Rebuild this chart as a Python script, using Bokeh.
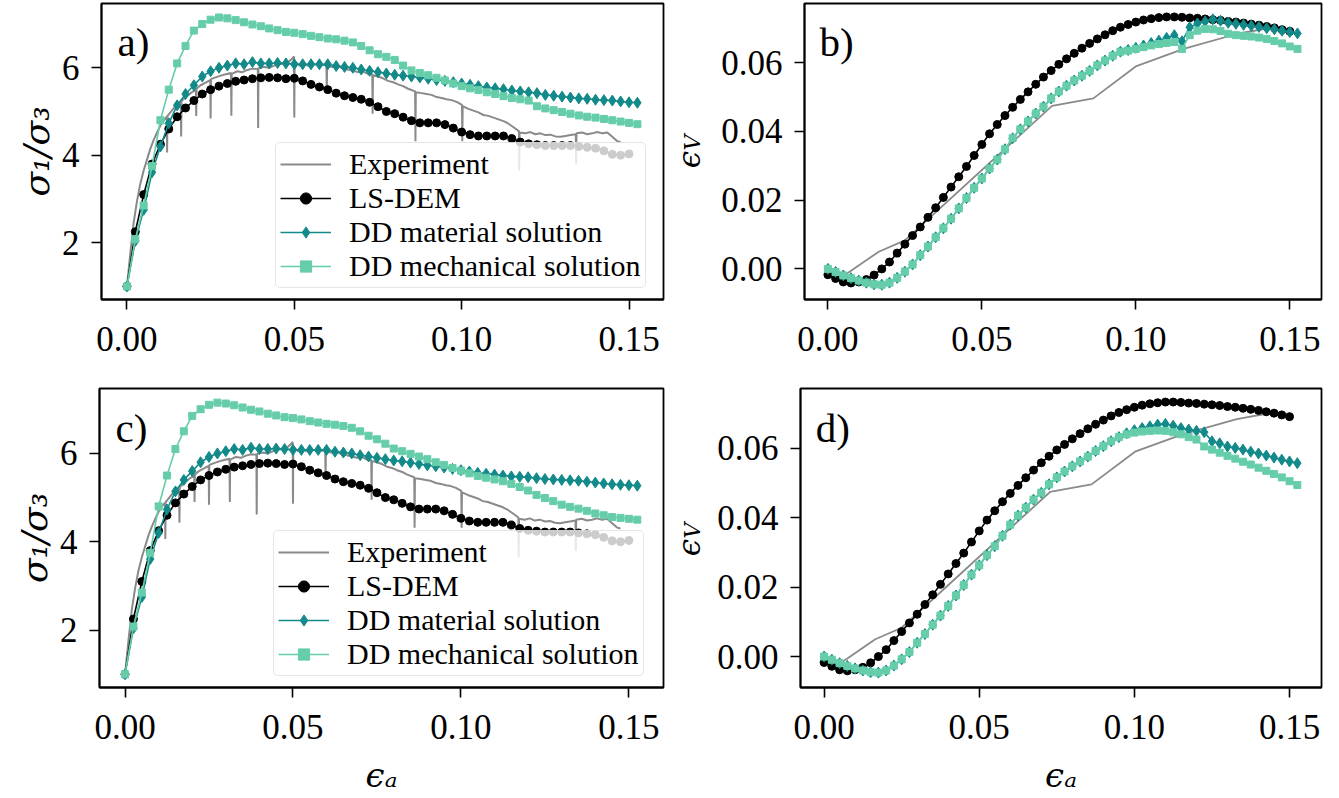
import math
from bokeh.plotting import figure
from bokeh.models import Range1d, FixedTicker, NumeralTickFormatter, Legend, LegendItem, Label
from bokeh.layouts import column, row
from bokeh.core.properties import value
from bokeh.embed import file_html
from bokeh.resources import INLINE

# ---------------- data ----------------
DD_STRAIN = [0.0, 0.0025, 0.005, 0.0075, 0.01, 0.0125, 0.015, 0.0175, 0.02, 0.0225,
             0.025, 0.0275, 0.03, 0.0325, 0.035, 0.0375, 0.04, 0.0425, 0.045, 0.0475,
             0.05, 0.0525, 0.055, 0.0575, 0.06, 0.0625, 0.065, 0.0675, 0.07, 0.0725,
             0.075, 0.0775, 0.08, 0.0825, 0.085, 0.0875, 0.09, 0.0925, 0.095, 0.0975,
             0.1, 0.1025, 0.105, 0.1075, 0.11, 0.1125, 0.115, 0.1175, 0.12, 0.1225,
             0.125, 0.1275, 0.13, 0.1325, 0.135, 0.1375, 0.14, 0.1425, 0.145, 0.1475,
             0.15, 0.1525]
DEM_STRAIN = DD_STRAIN[:61]

# stress ratio sigma1/sigma3, LS-DEM
DEM_RATIO = [1.00, 2.25, 3.10, 3.80, 4.25, 4.60, 4.88, 5.08, 5.25, 5.40,
             5.50, 5.58, 5.64, 5.69, 5.72, 5.75, 5.77, 5.78, 5.77, 5.75,
             5.76, 5.70, 5.62, 5.56, 5.50, 5.42, 5.36, 5.32, 5.28, 5.21,
             5.11, 5.00, 4.95, 4.87, 4.79, 4.74, 4.74, 4.74, 4.70, 4.62,
             4.53, 4.47, 4.44, 4.44, 4.44, 4.44, 4.38, 4.30, 4.26, 4.24,
             4.22, 4.22, 4.22, 4.22, 4.20, 4.18, 4.16, 4.10, 4.02, 4.00,
             4.03]

# DD material solution, panel a
MAT_RATIO_A = [1.00, 2.04, 2.75, 3.61, 4.20, 4.73, 5.14, 5.40, 5.60, 5.80,
               5.92, 6.00, 6.05, 6.10, 6.08, 6.13, 6.10, 6.10, 6.11, 6.10,
               6.08, 6.08, 6.08, 6.08, 6.08, 6.04, 6.02, 6.00, 5.96, 5.93,
               5.90, 5.87, 5.84, 5.82, 5.80, 5.78, 5.75, 5.72, 5.70, 5.67,
               5.64, 5.61, 5.58, 5.55, 5.53, 5.51, 5.48, 5.46, 5.44, 5.42,
               5.38, 5.36, 5.34, 5.32, 5.30, 5.29, 5.27, 5.26, 5.25, 5.23,
               5.21, 5.20]
# DD mechanical solution, panel a
MECH_RATIO_A = [1.00, 2.08, 2.85, 3.75, 4.80, 5.50, 6.10, 6.50, 6.85, 7.00,
                7.10, 7.15, 7.13, 7.09, 7.04, 6.99, 6.95, 6.90, 6.86, 6.82,
                6.80, 6.77, 6.73, 6.70, 6.67, 6.65, 6.62, 6.58, 6.50, 6.40,
                6.31, 6.25, 6.18, 6.05, 5.94, 5.88, 5.83, 5.77, 5.71, 5.64,
                5.58, 5.53, 5.49, 5.44, 5.40, 5.35, 5.31, 5.28, 5.25, 5.12,
                5.07, 5.03, 4.99, 4.95, 4.91, 4.88, 4.86, 4.83, 4.80, 4.77,
                4.74, 4.71]
# DD material solution, panel c
MAT_RATIO_C = MAT_RATIO_A[:30] + [
               5.90, 5.87, 5.84, 5.82, 5.79, 5.76, 5.73, 5.71, 5.68, 5.65,
               5.62, 5.59, 5.56, 5.54, 5.52, 5.50, 5.48, 5.47, 5.46, 5.44,
               5.42, 5.41, 5.40, 5.39, 5.38, 5.36, 5.34, 5.32, 5.30, 5.29,
               5.28, 5.27]
# DD mechanical solution, panel c
MECH_RATIO_C = MECH_RATIO_A[:30] + [
               6.32, 6.22, 6.11, 6.05, 5.99, 5.93, 5.87, 5.80, 5.74, 5.67,
               5.61, 5.55, 5.49, 5.45, 5.41, 5.37, 5.31, 5.24, 5.16, 5.06,
               4.99, 4.92, 4.84, 4.79, 4.75, 4.70, 4.64, 4.60, 4.56, 4.54,
               4.52, 4.50]

# experiment stress ratio (noisy, with relaxation drops)
EXP_STRAIN = [0.0, 0.001, 0.002, 0.003, 0.004, 0.005, 0.006, 0.007, 0.008, 0.009,
              0.010, 0.011, 0.0119, 0.0120, 0.0121, 0.013, 0.014, 0.015, 0.0161, 0.0162,
              0.0163, 0.0175, 0.019, 0.0206, 0.0207, 0.0208, 0.022, 0.0235, 0.0249, 0.0250,
              0.0251, 0.0265, 0.028, 0.0295, 0.0311, 0.0312, 0.0313, 0.033, 0.0345, 0.036,
              0.0375, 0.0391, 0.0392, 0.0393, 0.041, 0.0425, 0.044, 0.0455, 0.047, 0.0485,
              0.0495, 0.0499, 0.0500, 0.0501, 0.0515, 0.053, 0.0545, 0.056, 0.0575, 0.0596,
              0.0597, 0.0598, 0.0615, 0.063, 0.0645, 0.066, 0.0675, 0.069, 0.0705, 0.072,
              0.0733, 0.0734, 0.0735, 0.075, 0.0765, 0.078, 0.0795, 0.081, 0.0825, 0.084,
              0.0861, 0.0862, 0.0863, 0.088, 0.0895, 0.091, 0.0925, 0.094, 0.0955, 0.097,
              0.0985, 0.1001, 0.1002, 0.1003, 0.102, 0.1035, 0.105, 0.1065, 0.108, 0.1095,
              0.111, 0.1125, 0.114, 0.1155, 0.1171, 0.1172, 0.1173, 0.119, 0.1205, 0.122,
              0.1235, 0.125, 0.1265, 0.128, 0.1295, 0.131, 0.1325, 0.1341, 0.1342, 0.1343,
              0.136, 0.1375, 0.139, 0.1405, 0.142, 0.1435, 0.145, 0.1465, 0.1475]
EXP_RATIO = [1.00, 1.75, 2.45, 2.95, 3.35, 3.65, 3.90, 4.15, 4.35, 4.52,
             4.68, 4.80, 4.88, 4.06, 4.90, 4.98, 5.08, 5.15, 5.22, 4.43,
             5.24, 5.32, 5.42, 5.50, 4.90, 5.52, 5.60, 5.66, 5.72, 4.84,
             5.74, 5.78, 5.82, 5.85, 5.88, 4.90, 5.86, 5.92, 5.90, 5.95,
             5.98, 5.97, 4.62, 5.99, 6.02, 6.00, 6.05, 6.08, 6.10, 6.15,
             6.22, 6.26, 4.86, 6.15, 6.05, 6.08, 6.04, 6.08, 6.05, 6.07,
             5.45, 6.04, 6.02, 6.04, 5.98, 5.96, 5.93, 5.90, 5.92, 5.86,
             5.85, 4.95, 5.83, 5.80, 5.76, 5.70, 5.67, 5.62, 5.58, 5.52,
             5.46, 4.32, 5.44, 5.42, 5.40, 5.38, 5.33, 5.31, 5.28, 5.26,
             5.22, 5.15, 4.32, 5.12, 5.06, 5.02, 4.98, 4.92, 4.90, 4.86,
             4.82, 4.78, 4.72, 4.64, 4.55, 3.65, 4.52, 4.50, 4.53, 4.48,
             4.50, 4.46, 4.47, 4.43, 4.42, 4.44, 4.46, 4.48, 3.79, 4.50,
             4.52, 4.48, 4.50, 4.53, 4.50, 4.52, 4.42, 4.32, 4.30]

# volumetric strain, LS-DEM
DEM_VOL = [-0.0017, -0.0028, -0.0038, -0.0041, -0.0038, -0.0031, -0.0018, 0.0000, 0.0020, 0.0046,
           0.0072, 0.0097, 0.0122, 0.0150, 0.0178, 0.0208, 0.0238, 0.0268, 0.0298, 0.0330,
           0.0362, 0.0393, 0.0420, 0.0446, 0.0470, 0.0493, 0.0515, 0.0537, 0.0558, 0.0577,
           0.0595, 0.0611, 0.0627, 0.0642, 0.0656, 0.0669, 0.0681, 0.0693, 0.0703, 0.0711,
           0.0718, 0.0724, 0.0728, 0.0731, 0.0733, 0.0733, 0.0732, 0.0730, 0.0729, 0.0727,
           0.0725, 0.0723, 0.0720, 0.0718, 0.0715, 0.0712, 0.0709, 0.0705, 0.0701, 0.0696,
           0.0691]
DD_VOL_COMMON = [0.0000, -0.0009, -0.0019, -0.0027, -0.0034, -0.0040, -0.0045, -0.0046, -0.0040, -0.0026,
                 -0.0008, 0.0013, 0.0040, 0.0065, 0.0092, 0.0118, 0.0146, 0.0176, 0.0206, 0.0236,
                 0.0263, 0.0292, 0.0318, 0.0348, 0.0380, 0.0406, 0.0429, 0.0452, 0.0472, 0.0496,
                 0.0516, 0.0533, 0.0548, 0.0562, 0.0576, 0.0592, 0.0606, 0.0620, 0.0632]
MAT_VOL_B = DD_VOL_COMMON + [0.0637, 0.0643, 0.0650, 0.0657, 0.0664, 0.0672, 0.0680, 0.0662, 0.0703, 0.0714,
                             0.0720, 0.0726, 0.0722, 0.0716, 0.0713, 0.0710, 0.0707, 0.0704, 0.0700, 0.0697,
                             0.0693, 0.0689, 0.0685]
MECH_VOL_B = DD_VOL_COMMON + [0.0635, 0.0640, 0.0645, 0.0650, 0.0654, 0.0657, 0.0660, 0.0640, 0.0680, 0.0693,
                              0.0698, 0.0697, 0.0692, 0.0684, 0.0680, 0.0678, 0.0676, 0.0673, 0.0669, 0.0663,
                              0.0656, 0.0647, 0.0640]
MAT_VOL_D = DD_VOL_COMMON + [0.0643, 0.0652, 0.0658, 0.0663, 0.0668, 0.0670, 0.0665, 0.0658, 0.0654, 0.0650,
                             0.0646, 0.0620, 0.0614, 0.0605, 0.0601, 0.0596, 0.0590, 0.0585, 0.0579, 0.0573,
                             0.0567, 0.0562, 0.0557]
MECH_VOL_D = DD_VOL_COMMON + [0.0640, 0.0645, 0.0648, 0.0650, 0.0651, 0.0650, 0.0646, 0.0640, 0.0632, 0.0625,
                              0.0605, 0.0596, 0.0587, 0.0578, 0.0570, 0.0561, 0.0553, 0.0544, 0.0535, 0.0526,
                              0.0516, 0.0505, 0.0494]
EXP_VOL_STRAIN = [0.0, 0.0055, 0.0165, 0.025, 0.0728, 0.0862, 0.1002, 0.1155, 0.133, 0.143, 0.147]
EXP_VOL = [0.0, -0.0018, 0.0050, 0.0083, 0.0474, 0.0496, 0.0590, 0.0640, 0.0684, 0.0700, 0.0702]

X_TICKS = [0.0, 0.05, 0.10, 0.15]
RATIO_TICKS = [2, 4, 6]
VOL_TICKS = [0.0, 0.02, 0.04, 0.06]
LABELS = ["Experiment", "LS-DEM", "DD material solution", "DD mechanical solution"]

C_EXP = "#8a8a8a"
C_DEM = "#000000"
C_MAT = "#138a8a"
C_MECH = "#66cdaa"

SERIF = "Liberation Serif"
MATHF = "DejaVu Serif"

X_RANGE = (-0.0076, 0.1603)
RATIO_RANGE = (0.70, 7.47)
VOL_RANGE = (-0.0089, 0.0772)


def make_fig(w, h, bl, br, bt, bb, yrange, yticks, yfmt):
    p = figure(width=w, height=h, output_backend="svg", toolbar_location=None,
               x_range=Range1d(*X_RANGE), y_range=Range1d(*yrange),
               min_border_left=bl, min_border_right=br, min_border_top=bt, min_border_bottom=bb)
    p.grid.visible = False
    p.outline_line_color = "black"
    p.outline_line_width = 1.8
    p.background_fill_color = "white"
    p.border_fill_color = "white"
    p.xaxis.ticker = FixedTicker(ticks=X_TICKS)
    p.xaxis.formatter = NumeralTickFormatter(format="0.00")
    p.yaxis.ticker = FixedTicker(ticks=yticks)
    p.yaxis.formatter = NumeralTickFormatter(format=yfmt)
    for ax in (p.xaxis[0], p.yaxis[0]):
        ax.major_label_text_font = SERIF
        ax.major_label_text_font_size = "35px"
        ax.major_label_text_color = "black"
        ax.axis_line_width = 1.8
        ax.axis_line_color = "black"
        ax.major_tick_line_width = 1.6
        ax.major_tick_line_color = "black"
        ax.major_tick_out = 10
        ax.major_tick_in = 0
        ax.minor_tick_line_color = None
        ax.axis_label_text_font = MATHF
        ax.axis_label_text_font_style = "italic"
        ax.axis_label_text_font_size = "34px"
        ax.axis_label_text_color = "black"
    p.xaxis.major_label_standoff = 17
    p.yaxis.major_label_standoff = 12
    return p


def ratio_panel(w, h, bl, br, bt, bb, mat, mech, tag, tag_y, xlabel):
    p = make_fig(w, h, bl, br, bt, bb, RATIO_RANGE, RATIO_TICKS, "0")
    p.yaxis.axis_label = "σ₁/σ₃"
    p.yaxis.axis_label_standoff = 2
    p.yaxis.axis_label_text_font_size = "36px"
    if xlabel:
        p.xaxis.axis_label = "ϵₐ"
        p.xaxis.axis_label_standoff = 13
    r0 = p.line(EXP_STRAIN, EXP_RATIO, color=C_EXP, line_width=2)
    r1 = p.line(DEM_STRAIN, DEM_RATIO, color=C_DEM, line_width=1.6)
    r1s = p.scatter(DEM_STRAIN, DEM_RATIO, marker="circle", size=8, color=C_DEM)
    r2 = p.line(DD_STRAIN, mat, color=C_MAT, line_width=1.6)
    r2s = p.scatter(DD_STRAIN, mat, marker="diamond", size=11, color=C_MAT)
    r3 = p.line(DD_STRAIN, mech, color=C_MECH, line_width=1.6)
    r3s = p.scatter(DD_STRAIN, mech, marker="square", size=7, color=C_MECH)
    legend = Legend(items=[LegendItem(label=LABELS[0], renderers=[r0]),
                           LegendItem(label=LABELS[1], renderers=[r1, r1s]),
                           LegendItem(label=LABELS[2], renderers=[r2, r2s]),
                           LegendItem(label=LABELS[3], renderers=[r3, r3s])],
                    location=(174, 11))
    legend.label_text_font = SERIF
    legend.label_text_font_size = "30px"
    legend.label_text_color = "black"
    legend.glyph_width = 51
    legend.glyph_height = 28
    legend.label_height = 28
    legend.label_standoff = 18
    legend.spacing = 0
    legend.padding = 4
    legend.margin = 0
    legend.border_line_color = "#cccccc"
    legend.border_line_width = 1.5
    legend.border_radius = 5
    legend.background_fill_color = "white"
    legend.background_fill_alpha = 0.8
    p.add_layout(legend)
    p.add_layout(Label(x=-0.0028, y=tag_y, text=tag, text_font=SERIF,
                       text_font_size="41px", text_baseline="alphabetic", text_color="black"))
    return p


def vol_panel(w, h, bl, br, bt, bb, mat, mech, tag, tag_y, xlabel):
    p = make_fig(w, h, bl, br, bt, bb, VOL_RANGE, VOL_TICKS, "0.00")
    if xlabel:
        p.xaxis.axis_label = "ϵₐ"
        p.xaxis.axis_label_standoff = 13
    p.line(EXP_VOL_STRAIN, EXP_VOL, color=C_EXP, line_width=1.8)
    p.line(DEM_STRAIN, DEM_VOL, color=C_DEM, line_width=1.6)
    p.scatter(DEM_STRAIN, DEM_VOL, marker="circle", size=8, color=C_DEM)
    p.line(DD_STRAIN, mat, color=C_MAT, line_width=1.6)
    p.scatter(DD_STRAIN, mat, marker="diamond", size=11, color=C_MAT)
    p.line(DD_STRAIN, mech, color=C_MECH, line_width=1.6)
    p.scatter(DD_STRAIN, mech, marker="square", size=7, color=C_MECH)
    p.add_layout(Label(x=-0.0027, y=tag_y, text=tag, text_font=SERIF,
                       text_font_size="41px", text_baseline="alphabetic", text_color="black"))
    return p


def ylabel_strip(w, h, bt, bb, eps_xy, sub_xy):
    # narrow strip holding the rotated y-axis label "epsilon_V" of the volumetric panels
    fh = h - bt - bb
    q = figure(width=w, height=h, output_backend="svg", toolbar_location=None,
               x_range=Range1d(0, w), y_range=Range1d(0, fh),
               x_axis_type=None, y_axis_type=None,
               min_border_left=0, min_border_right=0, min_border_top=bt, min_border_bottom=bb)
    q.outline_line_color = None
    q.background_fill_color = "white"
    q.border_fill_color = "white"
    q.text(x=[eps_xy[0]], y=[eps_xy[1]], text=["ϵ"], angle=math.pi / 2,
           text_font=value(MATHF), text_font_style=value("italic"), text_font_size=value("31px"),
           text_align=value("center"), text_baseline=value("middle"), text_color="black")
    q.text(x=[sub_xy[0]], y=[sub_xy[1]], text=["V"], angle=math.pi / 2,
           text_font=value(MATHF), text_font_style=value("italic"), text_font_size=value("22px"),
           text_align=value("center"), text_baseline=value("middle"), text_color="black")
    return q


pa = ratio_panel(665, 371, 101, 2, 3, 72, MAT_RATIO_A, MECH_RATIO_A, "a)", 6.58, False)
qb = ylabel_strip(49, 371, 3, 72, (23, 140), (27, 157))
pb = vol_panel(609, 371, 90, 2, 3, 72, MAT_VOL_B, MECH_VOL_B, "b)", 0.0659, False)
pc = ratio_panel(665, 426, 99, 2, 17, 110, MAT_RATIO_C, MECH_RATIO_C, "c)", 6.58, True)
qd = ylabel_strip(49, 426, 17, 110, (23, 140), (27, 157))
pd = vol_panel(609, 426, 83, 2, 17, 110, MAT_VOL_D, MECH_VOL_D, "d)", 0.0659, True)

layout = column(row(pa, qb, pb), row(pc, qd, pd))

with open("out.html", "w") as f:
    f.write(file_html(layout, INLINE))
